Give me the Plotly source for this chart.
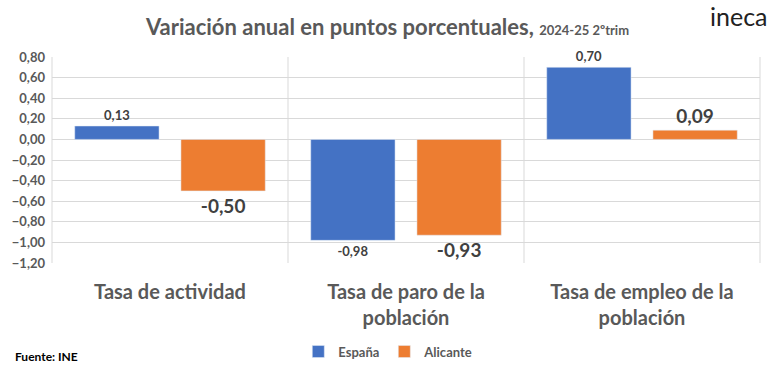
import plotly.graph_objects as go

categories = ["Tasa de actividad", "Tasa de paro de la<br>población", "Tasa de empleo de la<br>población"]
espana = [0.13, -0.98, 0.70]
alicante = [-0.50, -0.93, 0.09]
tick_vals = [0.8, 0.6, 0.4, 0.2, 0.0, -0.2, -0.4, -0.6, -0.8, -1.0, -1.2]

FONT = "Lato"
fig = go.Figure()
fig.add_trace(go.Bar(
    name="España", x=categories, y=espana, marker_color="#4472C4",
    text=[f"{v:.2f}".replace(".", ",") for v in espana], textposition="outside",
    textfont=dict(family=FONT, size=13, color="#404040", weight="bold"),
    cliponaxis=False,
))
fig.add_trace(go.Bar(
    name="Alicante", x=categories, y=alicante, marker_color="#ED7D31",
    text=[f"{v:.2f}".replace(".", ",") for v in alicante], textposition="outside",
    textfont=dict(family=FONT, size=19, color="#404040", weight="bold"),
    cliponaxis=False,
))

fig.update_layout(
    width=775, height=374,
    margin=dict(l=52, r=15, t=57, b=111, autoexpand=False),
    paper_bgcolor="white", plot_bgcolor="white",
    barmode="group", bargap=0.1, bargroupgap=0.206,
    separators=",.",
    font=dict(family=FONT, color="#595959"),
    title=dict(
        text="Variación anual en puntos porcentuales, <span style='font-size:13px'>2024-25 2ºtrim</span>",
        x=0.5, xanchor="center", y=0.928, yanchor="middle",
        font=dict(family=FONT, size=22, color="#595959", weight="bold"),
    ),
    showlegend=True,
    legend=dict(orientation="h", x=0.475, xanchor="center", y=-0.43, yanchor="middle",
                font=dict(family=FONT, size=13, color="#595959", weight="bold"),
                itemwidth=30, tracegroupgap=0),
)
fig.update_yaxes(
    range=[-1.2, 0.8], tickvals=tick_vals, tickformat=".2f",
    showgrid=True, gridcolor="#D9D9D9", gridwidth=1,
    zeroline=False, showline=False, automargin=False,
    tickfont=dict(family=FONT, size=13, color="#595959", weight="bold"),
    ticks="", ticklabelstandoff=6,
)
fig.update_xaxes(
    showgrid=False, showline=False, automargin=False,
    ticks="outside", ticklen=11, tickcolor="rgba(0,0,0,0)",
    tickfont=dict(family=FONT, size=20, color="#595959", weight="bold"),
)
# vertical category separators and frame edges
for xp in [0, 1/3, 2/3, 1]:
    fig.add_shape(type="line", xref="paper", yref="paper", x0=xp, x1=xp, y0=0, y1=1,
                  line=dict(color="#D9D9D9", width=1), layer="below")

fig.add_annotation(text="ineca", xref="paper", yref="paper", x=1.0, y=1.2, xshift=10,
                   xanchor="right", yanchor="middle", showarrow=False,
                   font=dict(family=FONT, size=25, color="#222222"))
fig.add_annotation(text="Fuente: INE", xref="paper", yref="paper", x=-0.055, y=-0.455,
                   xanchor="left", yanchor="middle", showarrow=False,
                   font=dict(family=FONT, size=12, color="#000000", weight="bold"))

fig.write_html("out.html", config={"displayModeBar": False},
               post_script="document.body.style.margin='0';")
